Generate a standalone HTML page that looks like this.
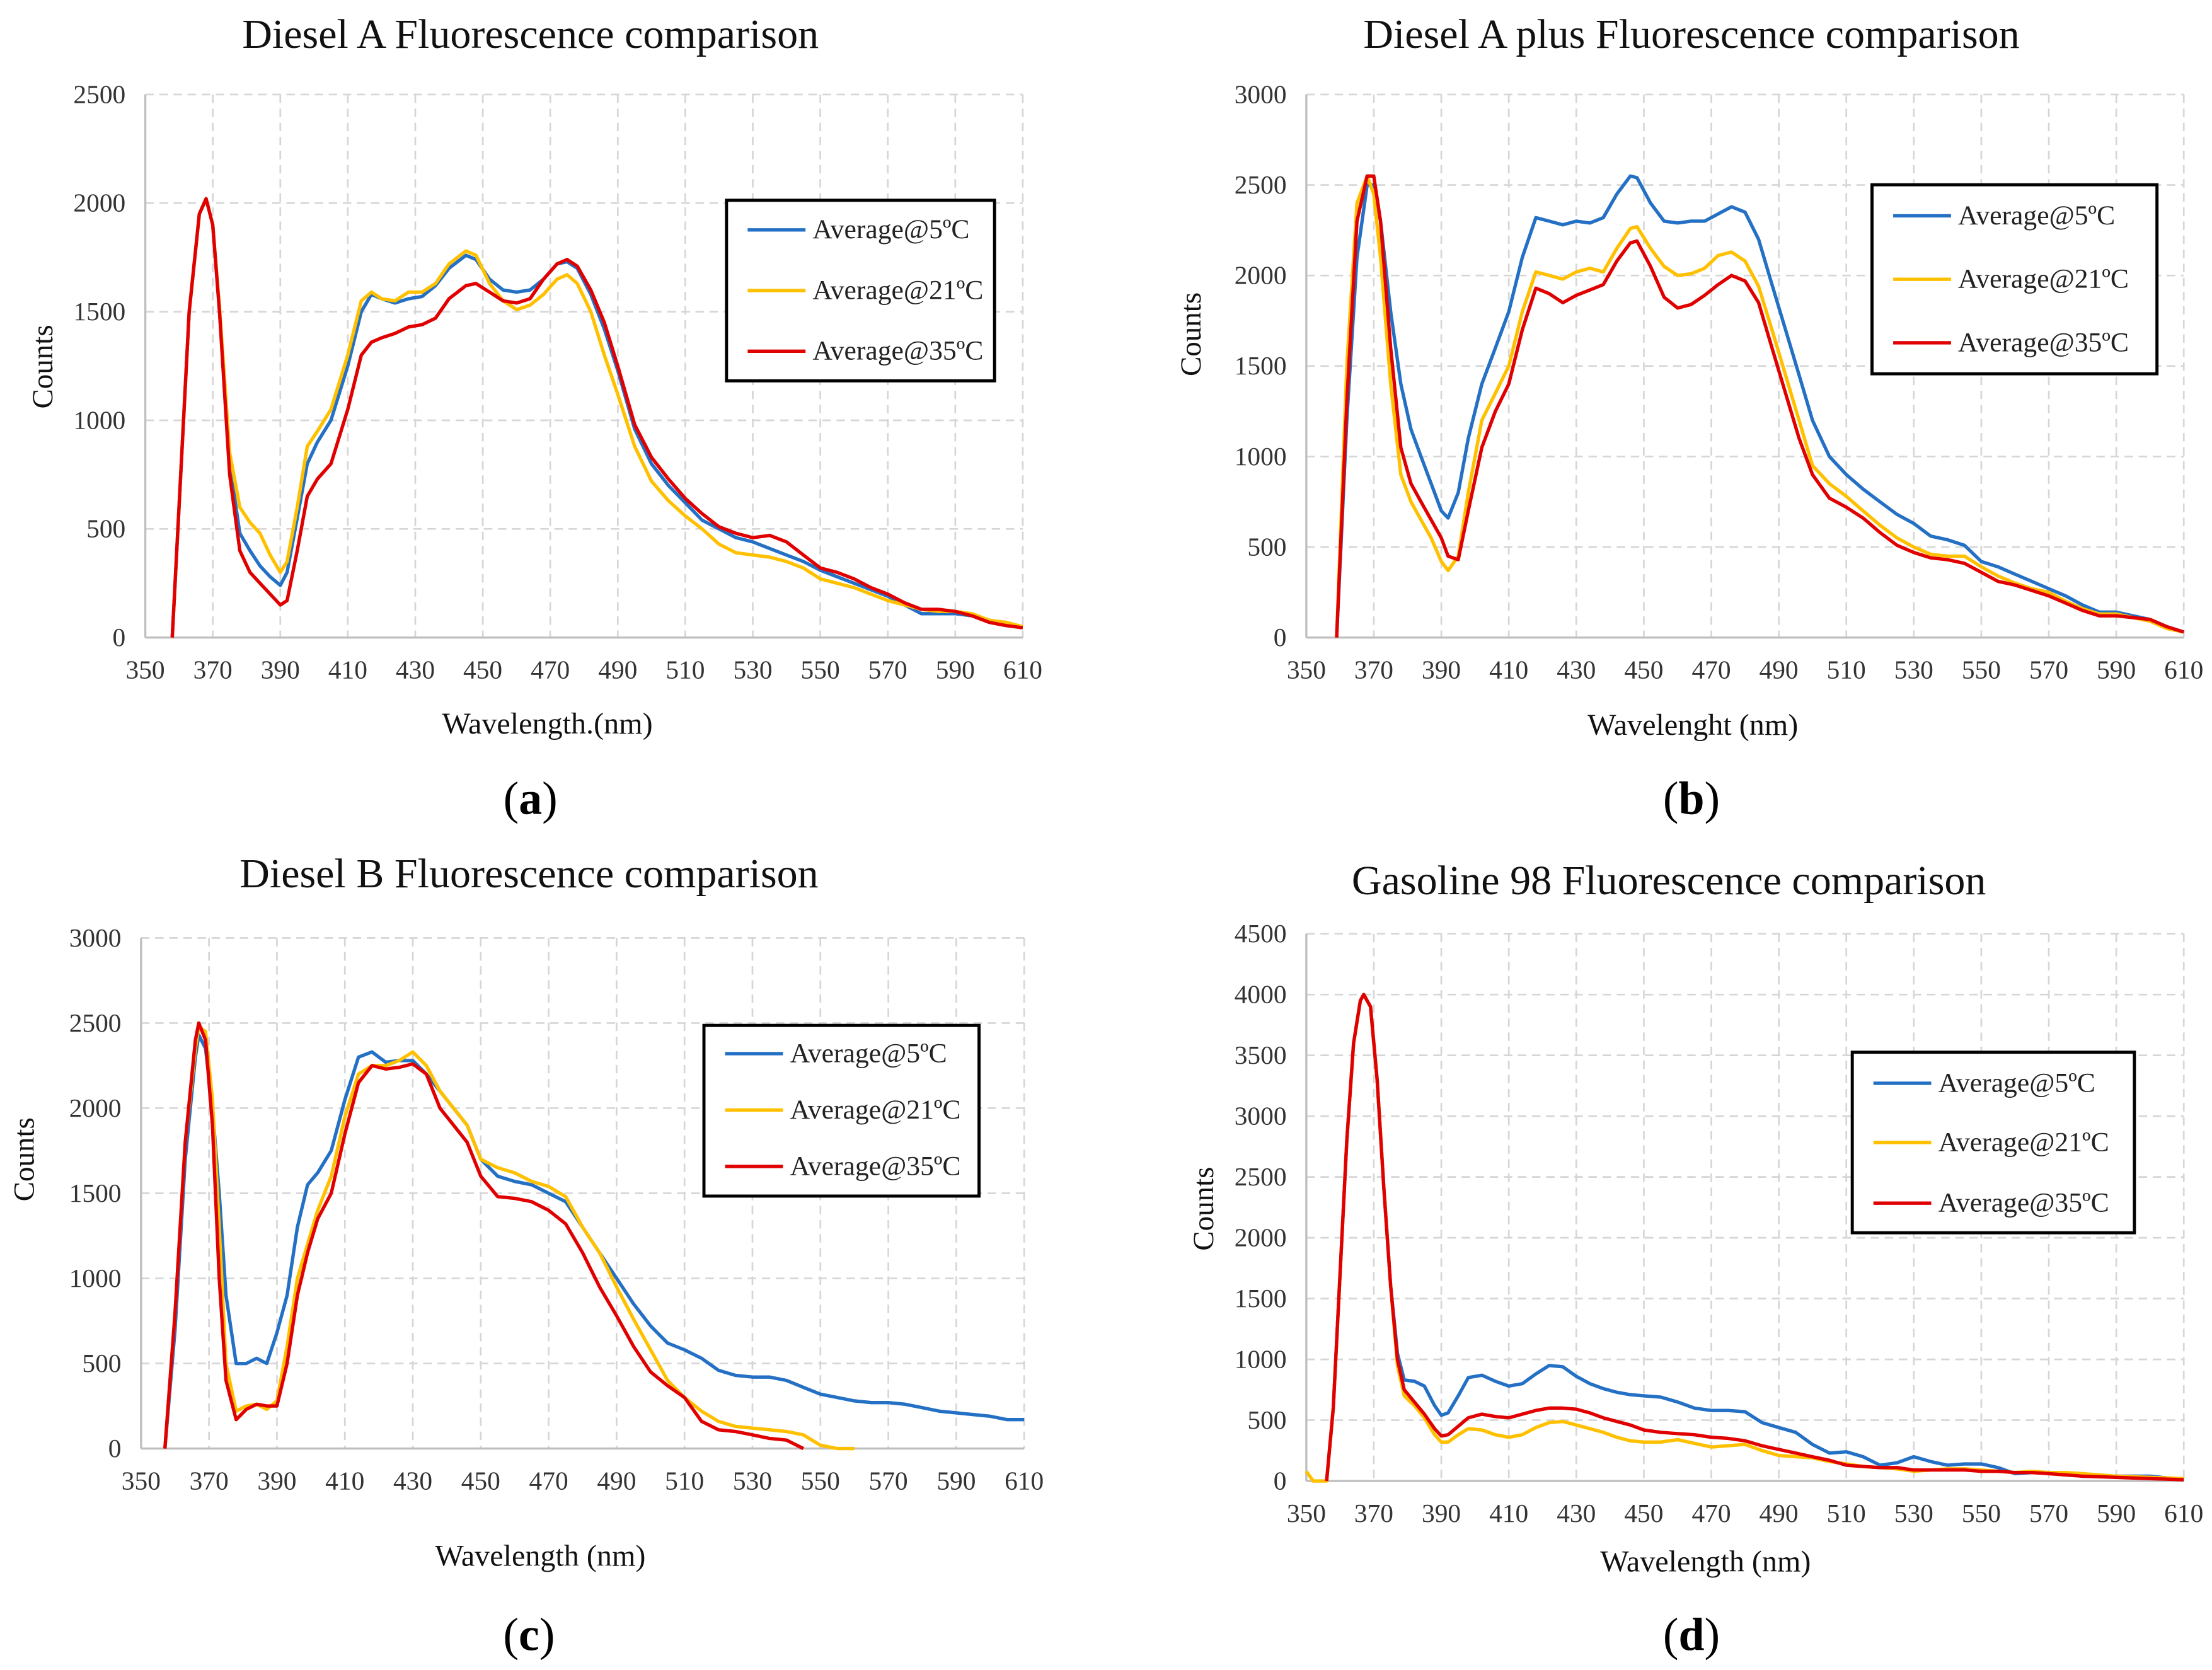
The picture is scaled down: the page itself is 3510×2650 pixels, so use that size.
<!DOCTYPE html>
<html><head><meta charset="utf-8"><style>
html,body{margin:0;padding:0;background:#fff;}
svg{display:block;font-family:"Liberation Serif",serif;}
</style></head><body>
<svg id="root" width="3510" height="2650" viewBox="0 0 1568 1184" preserveAspectRatio="none"></svg>
<script>
// ---------- Data ----------
const seriesNames = ["Average@5ºC","Average@21ºC","Average@35ºC"];
const seriesColors = ["#2470c4","#ffc000","#e00000"];
const xTicks = [350,370,390,410,430,450,470,490,510,530,550,570,590,610];

const aWl = [358,360,363,366,368,370,372,375,378,381,384,387,390,392,395,398,401,405,410,414,417,420,424,428,432,436,440,445,448,452,456,460,464,468,472,475,478,482,486,490,495,500,505,510,515,520,525,530,535,540,545,550,555,560,565,570,575,580,585,590,595,600,605,610];
const a5 = [0,600,1500,1950,2020,1900,1500,800,480,400,330,280,240,300,550,800,900,1000,1250,1500,1580,1560,1540,1560,1570,1620,1700,1760,1740,1650,1600,1590,1600,1650,1720,1730,1700,1580,1420,1230,960,800,700,620,540,500,460,440,410,380,350,310,280,250,220,190,150,110,110,110,100,80,60,50];
const a21 = [0,600,1500,1950,2020,1900,1520,850,600,530,480,380,300,350,600,880,950,1050,1300,1550,1590,1560,1550,1590,1590,1630,1720,1780,1760,1630,1550,1510,1530,1580,1650,1670,1630,1500,1300,1120,880,720,630,560,500,430,390,380,370,350,320,270,250,230,200,170,150,130,120,120,110,80,70,50];
const a35 = [0,600,1500,1950,2020,1900,1500,750,400,300,250,200,150,170,400,650,730,800,1050,1300,1360,1380,1400,1430,1440,1470,1560,1620,1630,1590,1550,1540,1560,1650,1720,1740,1710,1600,1450,1250,980,830,730,640,570,510,480,460,470,440,380,320,300,270,230,200,160,130,130,120,100,70,55,45];
const aYTicks = [0,500,1000,1500,2000,2500];

const bWl = [359,362,365,368,370,372,375,378,381,384,387,390,392,395,398,402,406,410,414,418,422,426,430,434,438,442,446,448,452,456,460,464,468,472,476,480,484,488,492,496,500,505,510,515,520,525,530,535,540,545,550,555,560,565,570,575,580,585,590,595,600,605,610];
const b5 = [0,1200,2100,2500,2500,2300,1800,1400,1150,1000,850,700,660,800,1100,1400,1600,1800,2100,2320,2300,2280,2300,2290,2320,2450,2550,2540,2400,2300,2290,2300,2300,2340,2380,2350,2200,1950,1700,1450,1200,1000,900,820,750,680,630,560,540,510,420,390,350,310,270,230,180,140,140,120,100,60,30];
const b21 = [0,1500,2400,2550,2450,2100,1400,900,750,650,550,420,370,450,800,1200,1350,1500,1800,2020,2000,1980,2020,2040,2020,2150,2260,2270,2150,2050,2000,2010,2040,2110,2130,2080,1940,1700,1450,1200,950,850,780,700,620,550,500,460,450,450,390,340,300,270,250,200,160,130,130,110,90,50,30];
const b35 = [0,1300,2300,2550,2550,2300,1600,1050,850,750,650,550,450,430,700,1050,1250,1400,1700,1930,1900,1850,1890,1920,1950,2080,2180,2190,2050,1880,1820,1840,1890,1950,2000,1970,1850,1600,1350,1100,900,770,720,660,580,510,470,440,430,410,360,310,290,260,230,190,150,120,120,110,100,60,30];
const bYTicks = [0,500,1000,1500,2000,2500,3000];

const cWl = [357,360,363,366,367,369,371,373,375,378,381,384,387,390,393,396,399,402,406,410,414,418,422,426,430,434,438,442,446,450,455,460,465,470,475,480,485,490,495,500,505,510,515,520,525,530,535,540,545,550,555,560,565,570,575,580,585,590,595,600,605,610];
const c5 = [0,700,1700,2300,2430,2350,2000,1500,900,500,500,530,500,680,900,1300,1550,1620,1750,2050,2300,2330,2270,2280,2280,2200,2100,2000,1900,1700,1600,1570,1550,1500,1450,1300,1150,1000,850,720,620,580,530,460,430,420,420,400,360,320,300,280,270,270,260,240,220,210,200,190,170,170];
const c21 = [0,800,1800,2350,2480,2450,2050,1300,500,220,250,260,230,280,600,1000,1200,1400,1600,1950,2200,2250,2250,2280,2330,2250,2100,2000,1900,1700,1650,1620,1570,1540,1480,1300,1150,950,760,580,400,300,220,160,130,120,110,100,80,20,0,0,null,null,null,null,null,null,null,null,null,null];
const c35 = [0,800,1800,2400,2500,2400,1900,1000,400,170,230,260,250,250,500,900,1150,1350,1500,1850,2150,2250,2230,2240,2260,2200,2000,1900,1800,1600,1480,1470,1450,1400,1320,1150,950,780,600,450,370,300,160,110,100,80,60,50,0,null,null,null,null,null,null,null,null,null,null,null,null,null];
const cYTicks = [0,500,1000,1500,2000,2500,3000];

const dWl = [350,352,356,358,360,362,364,366,367,369,371,373,375,377,379,382,385,388,390,392,395,398,402,406,410,414,418,422,426,430,434,438,442,446,450,455,460,465,470,475,480,485,490,495,500,505,510,515,520,525,530,535,540,545,550,555,560,565,570,575,580,590,600,610];
const d5 = [null,null,0,600,1700,2800,3600,3950,4000,3900,3300,2400,1600,1050,830,820,780,620,540,560,700,850,870,820,780,800,880,950,940,860,800,760,730,710,700,690,650,600,580,580,570,480,440,400,300,230,240,200,130,150,200,160,130,140,140,110,60,70,70,60,40,40,40,10];
const d21 = [80,0,0,600,1700,2800,3600,3950,4000,3900,3300,2400,1600,950,700,620,520,380,320,320,380,430,420,380,360,380,440,480,490,460,430,400,360,330,320,320,340,310,280,290,300,250,210,200,190,160,140,120,110,100,80,90,100,100,90,80,70,80,70,70,60,40,30,20];
const d35 = [null,null,0,600,1700,2800,3600,3950,4000,3900,3300,2400,1600,1000,750,650,550,430,370,380,450,520,550,530,520,550,580,600,600,590,560,520,490,460,420,400,390,380,360,350,330,290,260,230,200,170,130,120,110,110,90,90,90,90,80,80,70,70,60,50,40,30,20,10];
const dYTicks = [0,500,1000,1500,2000,2500,3000,3500,4000,4500];

// ---------- Drawing ----------
const NS = "http://www.w3.org/2000/svg";
const root = document.getElementById("root");
function mk(tag, attrs, parent, text){
  const e = document.createElementNS(NS, tag);
  for (const k in attrs) e.setAttribute(k, attrs[k]);
  if (text !== undefined) e.textContent = text;
  (parent || root).appendChild(e);
  return e;
}

function drawChart(id, box, yMax, yTicks, wl, series, titleText, title, ylab, xlabText, xlab, letter, letterPos, leg){
  const g = mk("g", {});
  
  
  const xs = v => box.l + (v - 350) / 260 * (box.r - box.l);
  const ys = v => box.b - v / yMax * (box.b - box.t);
  xTicks.forEach(t => {
    if (t === 350) return;
    const l = mk("line", {x1: xs(t), x2: xs(t), y1: box.t, y2: box.b, stroke: "#d6d6d6", "stroke-width": 1.2, "stroke-dasharray": "6,4"}, g);
    
    
  });
  yTicks.forEach(t => {
    if (t === 0) return;
    const l = mk("line", {x1: box.l, x2: box.r, y1: ys(t), y2: ys(t), stroke: "#d6d6d6", "stroke-width": 1.2, "stroke-dasharray": "6,4"}, g);
    
    
  });
  const ax = mk("line", {x1: box.l, x2: box.r, y1: box.b, y2: box.b, stroke: "#bfbfbf", "stroke-width": 1.5}, g);
  
  
  const ay = mk("line", {x1: box.l, x2: box.l, y1: box.t, y2: box.b, stroke: "#bfbfbf", "stroke-width": 1.5}, g);
  
  
  xTicks.forEach(t => {
    const tx = mk("text", {x: xs(t), y: box.b + 29, "text-anchor": "middle", "font-size": 18.5, fill: "#333"}, g, String(t));
    
    
  });
  yTicks.forEach(t => {
    const tx = mk("text", {x: box.l - 14, y: ys(t) + 6, "text-anchor": "end", "font-size": 18.5, fill: "#333"}, g, String(t));
    
    
  });
  series.forEach((vals, si) => {
    let d = "", pen = false;
    vals.forEach((v, i) => {
      if (v === null) { pen = false; return; }
      d += (pen ? "L" : "M") + xs(wl[i]).toFixed(1) + "," + ys(v).toFixed(1);
      pen = true;
    });
    const p = mk("path", {d: d, fill: "none", stroke: seriesColors[si], "stroke-width": 2.4, "stroke-linejoin": "round"}, g);
    
    
  });
  const lg = mk("g", {}, g);
  
  
  mk("rect", {x: leg.x, y: leg.y, width: leg.w, height: leg.h, fill: "#fff", stroke: "#000", "stroke-width": 2.2}, lg);
  seriesNames.forEach((n, i) => {
    const ey = leg.ey[i];
    const ln = mk("line", {x1: leg.x + 15, x2: leg.x + 56, y1: ey, y2: ey, stroke: seriesColors[i], "stroke-width": 2.4}, lg);
    
    
    const tx = mk("text", {x: leg.x + 61, y: ey + 6, "font-size": 19.5, fill: "#222"}, lg, n);
    
    
  });
  const tt = mk("text", {x: title[0], y: title[1], "text-anchor": "middle", "font-size": 29.5, fill: "#111"}, g, titleText);
  
  
  const yl = mk("text", {x: ylab[0], y: ylab[1], "text-anchor": "middle", "font-size": 21, fill: "#111", transform: "rotate(-90 " + ylab[0] + " " + ylab[1] + ")"}, g, "Counts");
  
  
  const xl = mk("text", {x: xlab[0], y: xlab[1], "text-anchor": "middle", "font-size": 21.5, fill: "#111"}, g, xlabText);
  
  
  const lt = mk("text", {x: letterPos[0], y: letterPos[1], "text-anchor": "middle", "font-size": 33, fill: "#000"}, g);
  
  
  mk("tspan", {}, lt, "(");
  mk("tspan", {"font-weight": "bold"}, lt, letter);
  mk("tspan", {}, lt, ")");
}

drawChart("diesel-a", {l:103, r:725, t:67, b:452}, 2500, aYTicks, aWl, [a5,a21,a35],
  "Diesel A Fluorescence comparison", [376,34], [37,260], "Wavelength.(nm)", [388,520], "a", [376,577],
  {x:515, y:142, w:190, h:128, ey:[163,206,249]});
drawChart("diesel-a-plus", {l:926, r:1548, t:67, b:452}, 3000, bYTicks, bWl, [b5,b21,b35],
  "Diesel A plus Fluorescence comparison", [1199,34], [851,237], "Wavelenght (nm)", [1200,521], "b", [1199,577],
  {x:1327, y:131, w:202, h:134, ey:[153,198,243]});
drawChart("diesel-b", {l:100, r:726, t:665, b:1027}, 3000, cYTicks, cWl, [c5,c21,c35],
  "Diesel B Fluorescence comparison", [375,629], [24,822], "Wavelength (nm)", [383,1110], "c", [375,1170],
  {x:499, y:727, w:195, h:121, ey:[747,787,827]});
drawChart("gasoline-98", {l:926, r:1548, t:662, b:1050}, 4500, dYTicks, dWl, [d5,d21,d35],
  "Gasoline 98 Fluorescence comparison", [1183,634], [860,857], "Wavelength (nm)", [1209,1114], "d", [1199,1170],
  {x:1313, y:746, w:200, h:128, ey:[768,810,853]});
</script>
</body></html>
